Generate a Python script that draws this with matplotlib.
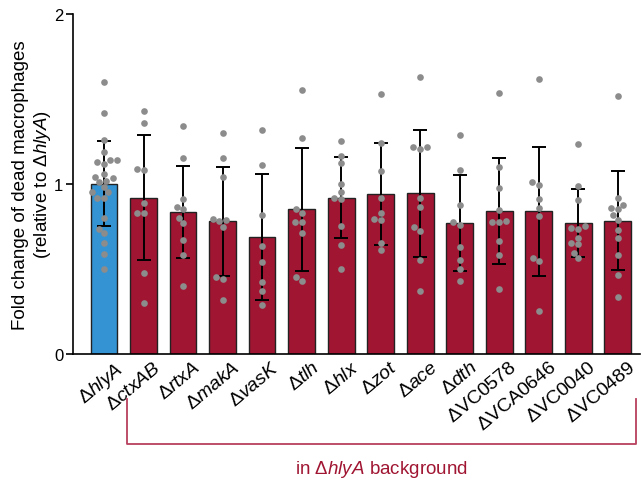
import numpy as np
import pandas as pd
import matplotlib
matplotlib.use('Agg')
import matplotlib.pyplot as plt
import matplotlib.transforms as mtransforms
import seaborn as sns

plt.rcParams['font.family'] = 'Liberation Sans'
plt.rcParams['mathtext.fontset'] = 'custom'
plt.rcParams['mathtext.rm'] = 'Liberation Sans'
plt.rcParams['mathtext.it'] = 'Liberation Sans:italic'
plt.rcParams['mathtext.bf'] = 'Liberation Sans:bold'

# strains (gene names italic, locus tags upright)
strains = ['hlyA', 'ctxAB', 'rtxA', 'makA', 'vasK', 'tlh', 'hlx', 'zot', 'ace', 'dth',
           'VC0578', 'VCA0646', 'VC0040', 'VC0489']
italic = [True] * 10 + [False] * 4

# mean fold change and SD
means = [1.00, 0.92, 0.835, 0.78, 0.69, 0.85, 0.92, 0.94, 0.945, 0.77, 0.84, 0.84, 0.77, 0.785]
sds = [0.25, 0.37, 0.27, 0.32, 0.37, 0.36, 0.24, 0.30, 0.375, 0.28, 0.31, 0.38, 0.20, 0.29]

# individual replicates
hlyA = [1.60, 1.42, 1.26, 1.19, 1.14, 1.13, 1.14, 1.12, 1.06, 1.04, 1.035, 1.02, 1.01,
        0.98, 0.95, 0.95, 0.92, 0.92, 0.80, 0.735, 0.71, 0.65, 0.59, 0.50]
ctxAB = [1.43, 1.36, 1.08, 1.09, 0.89, 0.83, 0.83, 0.475, 0.30]
rtxA = [1.34, 1.15, 0.865, 0.91, 0.85, 0.80, 0.77, 0.67, 0.585, 0.40]
makA = [1.30, 1.155, 1.04, 0.795, 0.79, 0.78, 0.745, 0.44, 0.45, 0.315]
vasK = [1.32, 1.11, 0.815, 0.635, 0.54, 0.425, 0.37, 0.29]
tlh = [1.555, 1.27, 0.85, 0.83, 0.775, 0.775, 0.71, 0.43, 0.455]
hlx = [1.255, 1.165, 1.125, 1.00, 0.955, 0.91, 0.915, 0.75, 0.64, 0.50]
zot = [1.53, 1.24, 1.075, 0.92, 0.83, 0.79, 0.795, 0.655, 0.61]
ace = [1.63, 1.215, 1.205, 1.22, 0.92, 0.865, 0.725, 0.745, 0.55, 0.37]
dth = [1.29, 1.08, 0.875, 0.775, 0.76, 0.63, 0.555, 0.50, 0.43]
VC0578 = [1.535, 1.10, 0.975, 0.845, 0.775, 0.785, 0.775, 0.665, 0.58, 0.38]
VCA0646 = [1.615, 1.01, 0.995, 0.91, 0.86, 0.81, 0.565, 0.545, 0.25]
VC0040 = [1.235, 0.99, 0.905, 0.735, 0.74, 0.75, 0.655, 0.685, 0.645, 0.565, 0.595]
VC0489 = [1.52, 0.92, 0.86, 0.875, 0.85, 0.79, 0.82, 0.73, 0.685, 0.58, 0.465, 0.335]
replicates = [hlyA, ctxAB, rtxA, makA, vasK, tlh, hlx, zot, ace, dth,
              VC0578, VCA0646, VC0040, VC0489]

blue = '#3393d3'
red = '#a01532'
bracket_red = '#b8405e'

rows = [(s, v) for s, vals in zip(strains, replicates) for v in vals]
df = pd.DataFrame(rows, columns=['strain', 'fold'])

fig = plt.figure(figsize=(6.42, 4.81), dpi=100)
ax = fig.add_axes([0.1137, 0.262, 0.883, 0.707])

x = np.arange(len(strains))
colors = [blue] + [red] * (len(strains) - 1)
ax.bar(x, means, width=0.68, color=colors, edgecolor='#222222', linewidth=1.0, zorder=2)
ax.errorbar(x, means, yerr=sds, fmt='none', ecolor='black', elinewidth=1.4,
            capsize=5, capthick=1.4, zorder=3)

sns.swarmplot(data=df, x='strain', y='fold', order=strains, color='#8c8c8c',
              size=4.8, linewidth=0, ax=ax, zorder=4)

ax.set_xlim(-0.784, 13.56)
ax.set_ylim(0, 2)
ax.set_yticks([0, 1, 2])
ax.tick_params(axis='y', labelsize=12, length=5, width=1.2, direction='out', pad=2)
ax.tick_params(axis='x', length=0, pad=3)

labels = []
for s, it in zip(strains, italic):
    if it:
        labels.append(r'$\Delta\mathit{' + s + '}$')
    else:
        labels.append(r'$\Delta\mathrm{' + s + '}$')
ax.set_xticks(x)
ax.set_xticklabels(labels, rotation=40, ha='right', va='top', rotation_mode='anchor',
                   fontsize=14)
shift = mtransforms.ScaledTranslation(10 / 100, 0, fig.dpi_scale_trans)
for lab in ax.get_xticklabels():
    lab.set_transform(lab.get_transform() + shift)

ax.set_xlabel('')
ax.set_ylabel('Fold change of dead macrophages\n(relative to $\\Delta\\mathit{hlyA}$)',
              fontsize=13.5, labelpad=1, linespacing=1.15)

for side in ['top', 'right']:
    ax.spines[side].set_visible(False)
for side in ['left', 'bottom']:
    ax.spines[side].set_linewidth(1.2)

# bracket under the hlyA-background mutants
trans = mtransforms.blended_transform_factory(ax.transData, ax.transAxes)
bx0, bx1 = 1 - 0.42, 13 + 0.45
ax.plot([bx0, bx0, bx1, bx1], [-0.132, -0.265, -0.265, -0.132], color=bracket_red,
        lw=1.3, transform=trans, clip_on=False)
ax.text((bx0 + bx1) / 2, -0.305, r'in $\Delta\mathit{hlyA}$ background', color=red,
        fontsize=13.5, ha='center', va='top', transform=trans)

fig.savefig('out.png', dpi=100)
